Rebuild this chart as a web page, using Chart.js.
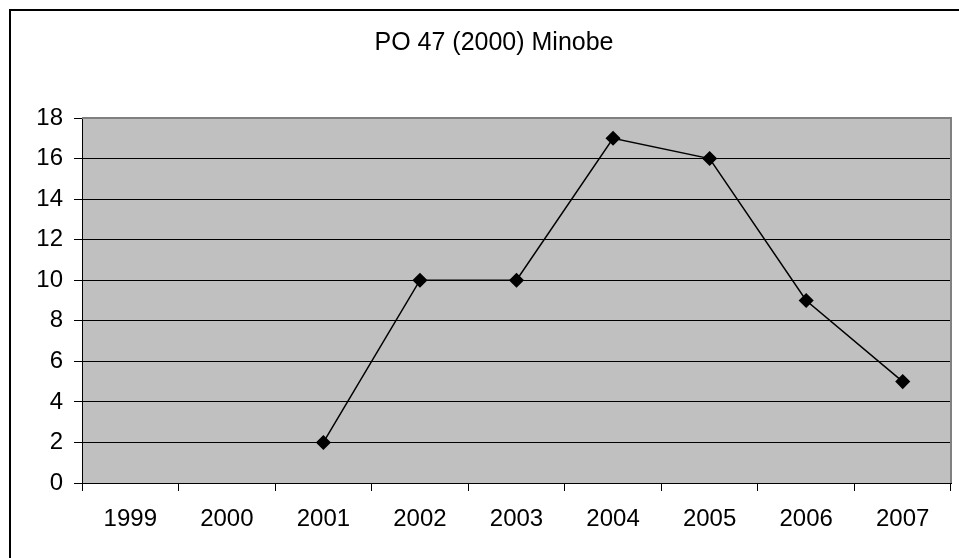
<!DOCTYPE html>
<html>
<head>
<meta charset="utf-8">
<script src="https://cdn.jsdelivr.net/npm/chart.js@4"></script>
<style>
  html, body { margin: 0; padding: 0; background: #fff; }
  #wrap { width: 959px; height: 558px; }
</style>
</head>
<body>
<div id="wrap"><canvas id="poChart" width="959" height="558"></canvas></div>
<script>
// data
const chartTitle = 'PO 47 (2000) Minobe';
const years = ['1999', '2000', '2001', '2002', '2003', '2004', '2005', '2006', '2007'];
const counts = [null, null, 2, 10, 10, 17, 16, 9, 5];
const yTicks = [0, 2, 4, 6, 8, 10, 12, 14, 16, 18];

const FONT = 'Arial, "Liberation Sans", sans-serif';

// grey plot background, frame around the whole chart, title text
const excelLook = {
    id: 'excelLook',
    beforeDraw(chart) {
        const { ctx, chartArea: a } = chart;
        ctx.save();
        ctx.fillStyle = '#fff';
        ctx.fillRect(0, 0, chart.width, chart.height);
        ctx.fillStyle = '#c0c0c0';
        ctx.fillRect(a.left, a.top, a.right - a.left, a.bottom - a.top);
        ctx.restore();
    },
    afterDraw(chart) {
        const { ctx, chartArea: a } = chart;
        ctx.save();
        // right + top edge of plot
        ctx.strokeStyle = '#808080';
        ctx.lineWidth = 2;
        ctx.beginPath();
        ctx.moveTo(a.left, a.top);
        ctx.lineTo(a.right, a.top);
        ctx.lineTo(a.right, a.bottom);
        ctx.stroke();
        // outer frame
        ctx.strokeStyle = '#000';
        ctx.lineWidth = 2;
        ctx.strokeRect(10, 10, chart.width, chart.height);
        // title
        ctx.fillStyle = '#000';
        ctx.font = '25px ' + FONT;
        ctx.textAlign = 'center';
        ctx.textBaseline = 'middle';
        ctx.fillText(chartTitle, 494, 43);
        ctx.restore();
    }
};

const ctx = document.getElementById('poChart').getContext('2d');
window.poChart = new Chart(ctx, {
    type: 'line',
    data: {
        labels: years,
        datasets: [{
            label: chartTitle,
            data: counts,
            borderColor: '#000',
            backgroundColor: '#000',
            borderWidth: 1.5,
            pointStyle: 'rectRot',
            pointRadius: 6.5,
            pointHoverRadius: 6.5,
            tension: 0,
            spanGaps: false
        }]
    },
    options: {
        responsive: false,
        animation: false,
        layout: { padding: { top: 118, right: 6, left: 0, bottom: 0 } },
        plugins: {
            legend: { display: false },
            tooltip: { enabled: false }
        },
        scales: {
            x: {
                offset: true,
                grid: {
                    offset: true,
                    drawOnChartArea: false,
                    drawTicks: true,
                    tickLength: 8,
                    color: '#000'
                },
                border: { color: '#000', width: 1 },
                ticks: {
                    color: '#000',
                    font: { family: FONT, size: 24 },
                    padding: 14,
                    maxRotation: 0
                },
                afterFit(scale) { scale.height = 75; }
            },
            y: {
                min: 0,
                max: 18,
                afterBuildTicks(scale) {
                    scale.ticks = yTicks.map(v => ({ value: v }));
                },
                grid: {
                    color: '#000',
                    lineWidth: 1,
                    drawTicks: true,
                    tickLength: 8
                },
                border: { color: '#000', width: 1 },
                ticks: {
                    color: '#000',
                    font: { family: FONT, size: 24 },
                    padding: 11
                },
                afterFit(scale) { scale.width = 82; }
            }
        }
    },
    plugins: [excelLook]
});
</script>
</body>
</html>
